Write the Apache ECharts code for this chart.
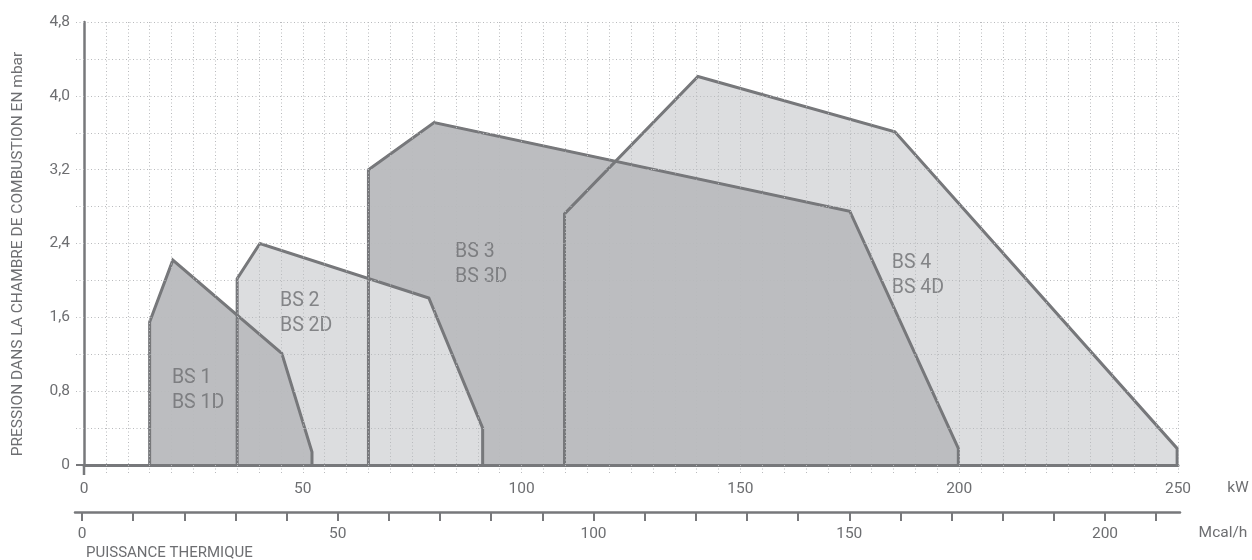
<!DOCTYPE html>
<html>
<head>
<meta charset="utf-8">
<script src="https://cdn.jsdelivr.net/npm/echarts@6/dist/echarts.min.js"></script>
<style>
html,body{margin:0;padding:0;background:#fff;}
#chart{width:1252px;height:560px;}
</style>
</head>
<body>
<div id="chart"></div>
<script>
// Operating envelopes: [kW, mbar]
const BS1 = [[15,0],[15,1.55],[20.3,2.22],[45.2,1.21],[52.1,0.14],[52.1,0]];
const BS2 = [[35,0],[35,2.02],[40.2,2.40],[78.8,1.81],[91.1,0.40],[91.1,0]];
const BS3 = [[65,0],[65,3.2],[80,3.71],[175,2.75],[199.8,0.18],[199.8,0]];
const BS4 = [[109.8,0],[109.8,2.72],[140.3,4.21],[185.3,3.61],[249.8,0.18],[249.8,0]];
const LABELS = [['BS 1\nBS 1D',[20.1,0.81]],['BS 2\nBS 2D',[44.8,1.64]],['BS 3\nBS 3D',[84.8,2.17]],['BS 4\nBS 4D',[184.6,2.05]]];
const KW_LABELS = [0,50,100,150,200,250];
const MCAL_TICKS = [0,10,20,30,40,50,60,70,80,90,100,110,120,130,140,150,160,170,180,190,200,210];
const MCAL_LABELS = [0,50,100,150,200];
const Y_LABELS = [0,0.8,1.6,2.4,3.2,4.0,4.8];

const TXT = '#6d6e71', LINE = '#77787b', DARK = '#bcbdc0', LIGHT = '#dcdddf', GRID = '#b9babd';
const FONT = 'Roboto';
const dot = {type:[1,2.5], color: GRID, width:1};

function fillSeries(data, color) {
  return {type:'line', data, symbol:'none', silent:true, animation:false, z:2,
    lineStyle:{color:LINE, width:3, join:'miter'}, areaStyle:{color, opacity:1}};
}
function thinSeries(data) {
  return {type:'line', data, symbol:'none', silent:true, animation:false, z:2,
    lineStyle:{color:LINE, width:1.5}};
}
const near = (v, arr) => arr.some(a => Math.abs(a - v) < 1e-6);

const chart = echarts.init(document.getElementById('chart'), null, {renderer:'canvas'});
chart.setOption({
  animation:false,
  grid:[
    {left:84, right:74, top:22, bottom:95},
    {left:75, right:72, top:511, height:1}
  ],
  xAxis:[
    {type:'value', gridIndex:0, min:0, max:250, interval:5, z:5,
     axisLine:{show:true, onZero:false, lineStyle:{color:LINE, width:3}},
     axisTick:{show:true, length:9, lineStyle:dot},
     splitLine:{show:true, lineStyle:dot},
     axisLabel:{margin:16, color:TXT, fontFamily:FONT, fontSize:15.5,
       formatter:v => near(v, KW_LABELS) ? String(v) : ''}},
    {type:'value', gridIndex:1, min:-1.37, max:214.66, position:'bottom',
     axisLine:{show:true, lineStyle:{color:LINE, width:2.5}},
     axisTick:{show:true, length:9, customValues:MCAL_TICKS, lineStyle:{color:LINE, width:2}},
     axisLabel:{margin:14, color:TXT, fontFamily:FONT, fontSize:15.5, customValues:MCAL_LABELS},
     splitLine:{show:false}}
  ],
  yAxis:[
    {type:'value', gridIndex:0, min:0, max:4.8, interval:0.4, z:5,
     axisLine:{show:true, onZero:false, lineStyle:{color:LINE, width:2.5}},
     axisTick:{show:true, length:8, lineStyle:dot},
     splitLine:{show:true, lineStyle:dot},
     axisLabel:{margin:14, color:TXT, fontFamily:FONT, fontSize:15.5,
       formatter:v => near(v, Y_LABELS) ? (v === 0 ? '0' : v.toFixed(1).replace('.', ',')) : ''}},
    {type:'value', gridIndex:1, show:false, min:0, max:1}
  ],
  series:[
    fillSeries(BS4, LIGHT),
    fillSeries(BS3, DARK),
    fillSeries(BS2, LIGHT),
    fillSeries(BS1, DARK),
    thinSeries(BS4), thinSeries(BS3), thinSeries(BS2), thinSeries(BS1),
    {type:'scatter', symbolSize:0, silent:true, z:4,
     data: LABELS.map(l => ({value:l[1], name:l[0]})),
     label:{show:true, position:'right', distance:0, formatter:p => p.name,
       color:TXT, fontFamily:FONT, fontSize:19.5, lineHeight:25, align:'left'}}
  ],
  graphic:[
    {type:'line', shape:{x1:84, y1:465, x2:84, y2:475}, style:{stroke:LINE, lineWidth:2.5}, z:10},
    {type:'line', shape:{x1:76, y1:465, x2:84, y2:465}, style:{stroke:LINE, lineWidth:2}, z:10},
    {type:'text', x:1238, y:488, style:{text:'kW', fill:TXT, font:'15.5px ' + FONT, align:'center', verticalAlign:'middle'}},
    {type:'text', x:1223, y:533, style:{text:'Mcal/h', fill:TXT, font:'15.5px ' + FONT, align:'center', verticalAlign:'middle'}},
    {type:'text', x:86, y:553, style:{text:'PUISSANCE THERMIQUE', fill:TXT, font:'15px ' + FONT, align:'left', verticalAlign:'middle'}},
    {type:'text', x:18, y:254, rotation:Math.PI/2, style:{text:'PRESSION DANS LA CHAMBRE DE COMBUSTION EN mbar', fill:TXT, font:'15.5px ' + FONT, align:'center', verticalAlign:'middle'}}
  ]
});
</script>
</body>
</html>
